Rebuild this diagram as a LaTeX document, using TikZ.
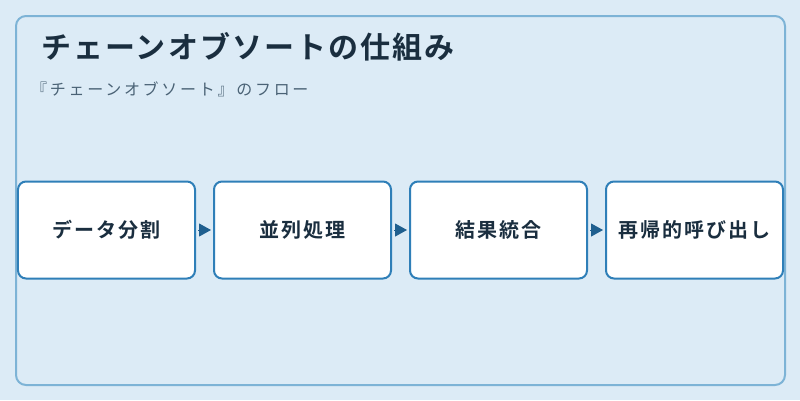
\documentclass[tikz,border=0pt]{standalone}
\usepackage{fontspec}
\setmainfont{Noto Sans CJK JP}
\newfontfamily\jpbold{Noto Sans CJK JP Bold}
\usetikzlibrary{positioning,arrows.meta}
\definecolor{pagebg}{HTML}{DCEBF6}
\definecolor{framec}{HTML}{7DB3D6}
\definecolor{boxline}{HTML}{2F7FB8}
\definecolor{arrowc}{HTML}{1F5F8F}
\definecolor{titlec}{HTML}{1A2E3F}
\definecolor{subc}{HTML}{4A6275}
\tikzset{
  stepbox/.style={draw=boxline, line width=2bp, fill=white, rounded corners=8bp,
    minimum width=177bp, minimum height=97bp, inner sep=0pt,
    font=\jpbold\addfontfeature{LetterSpace=10}\fontsize{20bp}{24bp}\selectfont, text=titlec},
  flowarrow/.style={draw=arrowc, line width=1bp, shorten <=2bp, shorten >=2bp,
    -{Triangle[length=12bp,width=13bp]}}
}
\begin{document}
\begin{tikzpicture}[x=1bp,y=-1bp]
\fill[pagebg] (0,0) rectangle (800,400);
\useasboundingbox (0,0) rectangle (800,400);
\draw[framec, line width=2bp, rounded corners=10bp] (16,16) rectangle (785,385);

\node[anchor=west, inner sep=0pt, text=titlec, font=\jpbold\addfontfeature{LetterSpace=7}\fontsize{30bp}{34bp}\selectfont] (title) at (41,47) {チェーンオブソートの仕組み};
\node[anchor=west, inner sep=0pt, text=subc, font=\addfontfeature{LetterSpace=17}\fontsize{16bp}{19bp}\selectfont] (sub) at (31,89) {『チェーンオブソート』のフロー};

\node[stepbox] (split) at (106.5,230) {データ分割};
\node[stepbox, right=17bp of split] (para) {並列処理};
\node[stepbox, right=17bp of para] (merge) {結果統合};
\node[stepbox, right=17bp of merge] (rec) {再帰的呼び出し};

\draw[flowarrow] (split) -- (para);
\draw[flowarrow] (para) -- (merge);
\draw[flowarrow] (merge) -- (rec);
\end{tikzpicture}
\end{document}
